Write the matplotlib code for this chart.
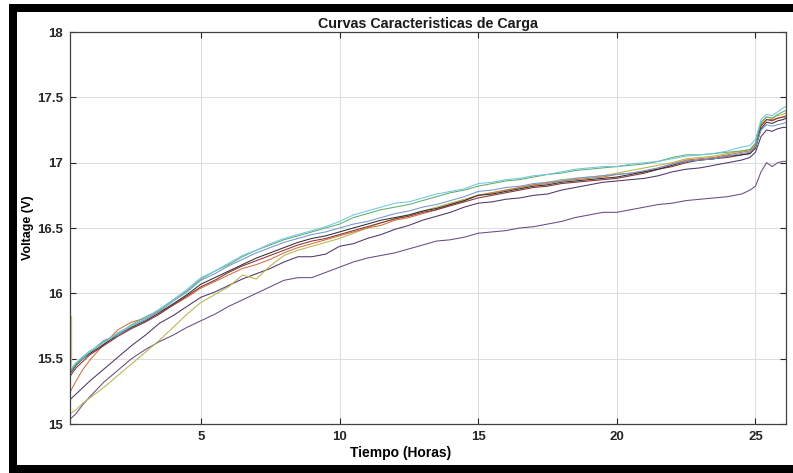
import matplotlib
matplotlib.use("Agg")
import matplotlib.pyplot as plt
from matplotlib.patches import Rectangle

plt.rcParams['font.family'] = ['Liberation Sans', 'DejaVu Sans']

# Charging time (hours)
t = [0.3, 0.5, 0.75, 1.0, 1.5, 2.0, 2.5, 3.0, 3.5, 4.0, 4.5, 5.0, 5.5, 6.0, 6.5,
     7.0, 7.5, 8.0, 8.5, 9.0, 9.5, 10.0, 10.5, 11.0, 11.5, 12.0, 12.5, 13.0,
     13.5, 14.0, 14.5, 15.0, 15.5, 16.0, 16.5, 17.0, 17.5, 18.0, 18.5, 19.0,
     19.5, 20.0, 20.5, 21.0, 21.5, 22.0, 22.5, 23.0, 23.5, 24.0, 24.5, 24.8,
     25.0, 25.2, 25.4, 25.6, 25.8, 26.0, 26.1]

# Battery voltage (V) for each charge cycle
v_cyan = [15.42, 15.47, 15.52, 15.56, 15.62, 15.70, 15.75, 15.81, 15.88, 15.95, 16.03, 16.12, 16.17, 16.23, 16.29,
          16.33, 16.38, 16.42, 16.45, 16.48, 16.51, 16.55, 16.60, 16.63, 16.66, 16.69, 16.70, 16.73,
          16.76, 16.78, 16.80, 16.84, 16.85, 16.87, 16.88, 16.90, 16.91, 16.93, 16.95, 16.96,
          16.97, 16.97, 16.99, 17.00, 17.01, 17.03, 17.05, 17.06, 17.07, 17.09, 17.12, 17.13,
          17.18, 17.33, 17.37, 17.36, 17.39, 17.42, 17.43]
v_green = [15.41, 15.46, 15.51, 15.55, 15.63, 15.69, 15.76, 15.82, 15.87, 15.95, 16.02, 16.11, 16.17, 16.22, 16.28,
           16.33, 16.37, 16.41, 16.44, 16.47, 16.50, 16.53, 16.58, 16.61, 16.64, 16.66, 16.68, 16.71,
           16.74, 16.77, 16.79, 16.82, 16.84, 16.86, 16.87, 16.89, 16.91, 16.92, 16.94, 16.95,
           16.96, 16.97, 16.98, 16.99, 17.01, 17.04, 17.06, 17.06, 17.07, 17.08, 17.09, 17.10,
           17.15, 17.31, 17.35, 17.34, 17.37, 17.39, 17.40]
v_blue = [15.40, 15.46, 15.50, 15.55, 15.64, 15.68, 15.75, 15.80, 15.86, 15.94, 16.01, 16.10, 16.15, 16.21, 16.26,
          16.31, 16.35, 16.39, 16.42, 16.45, 16.47, 16.50, 16.53, 16.55, 16.58, 16.61, 16.63, 16.66,
          16.68, 16.71, 16.74, 16.78, 16.79, 16.81, 16.82, 16.84, 16.85, 16.86, 16.88, 16.89,
          16.90, 16.91, 16.92, 16.94, 16.96, 16.99, 17.01, 17.02, 17.03, 17.05, 17.07, 17.08,
          17.12, 17.25, 17.29, 17.28, 17.29, 17.30, 17.31]
v_black = [15.39, 15.45, 15.50, 15.54, 15.61, 15.68, 15.74, 15.79, 15.85, 15.92, 15.99, 16.07, 16.12, 16.17, 16.22,
           16.27, 16.31, 16.35, 16.39, 16.42, 16.44, 16.47, 16.50, 16.53, 16.56, 16.58, 16.60, 16.63,
           16.65, 16.68, 16.71, 16.75, 16.76, 16.78, 16.80, 16.82, 16.83, 16.85, 16.86, 16.87,
           16.88, 16.89, 16.91, 16.93, 16.95, 16.98, 17.01, 17.02, 17.03, 17.05, 17.06, 17.07,
           17.11, 17.26, 17.31, 17.30, 17.32, 17.33, 17.34]
v_darkred = [15.37, 15.43, 15.48, 15.53, 15.60, 15.67, 15.73, 15.78, 15.84, 15.91, 15.98, 16.05, 16.10, 16.16, 16.21,
             16.25, 16.29, 16.33, 16.37, 16.40, 16.42, 16.45, 16.48, 16.51, 16.54, 16.57, 16.59, 16.62,
             16.64, 16.67, 16.70, 16.73, 16.75, 16.77, 16.79, 16.81, 16.82, 16.84, 16.85, 16.86,
             16.87, 16.88, 16.90, 16.92, 16.95, 16.97, 17.00, 17.02, 17.03, 17.04, 17.06, 17.07,
             17.12, 17.28, 17.33, 17.32, 17.34, 17.35, 17.35]
v_orange = [15.25, 15.33, 15.42, 15.49, 15.61, 15.72, 15.78, 15.81, 15.86, 15.91, 15.97, 16.04, 16.09, 16.14, 16.19,
            16.22, 16.26, 16.31, 16.35, 16.38, 16.41, 16.44, 16.47, 16.50, 16.52, 16.56, 16.58, 16.61,
            16.64, 16.68, 16.71, 16.75, 16.77, 16.79, 16.81, 16.83, 16.84, 16.86, 16.87, 16.88,
            16.89, 16.91, 16.92, 16.93, 16.96, 16.99, 17.02, 17.03, 17.04, 17.06, 17.08, 17.09,
            17.13, 17.29, 17.33, 17.33, 17.34, 17.35, 17.36]
v_olive = [15.08, 15.11, 15.16, 15.20, 15.28, 15.37, 15.46, 15.55, 15.64, 15.74, 15.84, 15.93, 15.99, 16.05, 16.14,
           16.11, 16.21, 16.29, 16.33, 16.36, 16.39, 16.42, 16.46, 16.50, 16.54, 16.57, 16.60, 16.63,
           16.66, 16.69, 16.72, 16.75, 16.77, 16.79, 16.81, 16.83, 16.85, 16.87, 16.88, 16.89,
           16.90, 16.92, 16.94, 16.96, 16.98, 17.00, 17.03, 17.04, 17.05, 17.07, 17.09, 17.10,
           17.14, 17.30, 17.35, 17.34, 17.36, 17.37, 17.38]
v_purple = [15.19, 15.23, 15.28, 15.33, 15.42, 15.51, 15.60, 15.68, 15.77, 15.83, 15.90, 15.97, 16.01, 16.06, 16.11,
            16.15, 16.19, 16.24, 16.28, 16.28, 16.30, 16.36, 16.38, 16.42, 16.45, 16.49, 16.52, 16.56,
            16.59, 16.62, 16.66, 16.69, 16.70, 16.72, 16.73, 16.75, 16.76, 16.79, 16.81, 16.83,
            16.85, 16.86, 16.87, 16.88, 16.90, 16.93, 16.95, 16.96, 16.98, 17.00, 17.02, 17.04,
            17.08, 17.20, 17.25, 17.24, 17.26, 17.27, 17.27]
v_lowest = [15.04, 15.08, 15.15, 15.21, 15.32, 15.41, 15.50, 15.57, 15.63, 15.68, 15.74, 15.79, 15.84, 15.90, 15.95,
            16.00, 16.05, 16.10, 16.12, 16.12, 16.16, 16.20, 16.24, 16.27, 16.29, 16.31, 16.34, 16.37,
            16.40, 16.41, 16.43, 16.46, 16.47, 16.48, 16.50, 16.51, 16.53, 16.55, 16.58, 16.60,
            16.62, 16.62, 16.64, 16.66, 16.68, 16.69, 16.71, 16.72, 16.73, 16.74, 16.76, 16.79,
            16.82, 16.93, 17.00, 16.97, 17.00, 17.01, 17.01]

# Short start-up transient of one cycle
t_spike = [0.3, 0.3]
v_spike = [15.45, 15.83]

series = [
    (v_lowest, '#6a4a82'),
    (v_purple, '#4f3466'),
    (v_olive, '#b3b54c'),
    (v_orange, '#d0703f'),
    (v_darkred, '#8c2f32'),
    (v_black, '#2e2e2e'),
    (v_blue, '#7497cf'),
    (v_green, '#5fae6e'),
    (v_cyan, '#72c6e2'),
]

W, H = 793, 473
fig = plt.figure(figsize=(W / 100, H / 100), dpi=100)

# black frame around the figure
def px_rect(x0, y0, x1, y1):
    return Rectangle((x0 / W, 1 - y1 / H), (x1 - x0) / W, (y1 - y0) / H,
                     transform=fig.transFigure, facecolor='black',
                     edgecolor='none', zorder=0)

fig.patches.extend([
    px_rect(9, 4, W, 12),
    px_rect(9, 4, 17, H),
    px_rect(9, 465, W, H),
])

ax = fig.add_axes([70 / W, 1 - 424 / H, (786 - 70) / W, (424 - 32) / H])

for v, c in series:
    ax.plot(t, v, color=c, linewidth=0.75)
ax.plot(t_spike, v_spike, color='#e8d04a', linewidth=1.0)

ax.set_xlim(0.28, 26.1)
ax.set_ylim(15, 18)
ax.set_xticks([5, 10, 15, 20, 25])
ax.set_yticks([15, 15.5, 16, 16.5, 17, 17.5, 18])
ax.set_yticklabels(['15', '15.5', '16', '16.5', '17', '17.5', '18'])

ax.grid(True, color='#dcdcdc', linewidth=0.7)
ax.set_axisbelow(True)
ax.tick_params(direction='in', length=4, width=0.8, top=True, right=True,
               colors='#262626', labelsize=9.5, pad=5)
for lab in ax.get_xticklabels() + ax.get_yticklabels():
    lab.set_fontweight('bold')
for s in ax.spines.values():
    s.set_color('#404040')
    s.set_linewidth(0.9)

ax.set_title('Curvas Caracteristicas de Carga', fontsize=10.3, fontweight='bold',
             color='#1a1a1a', pad=3)
ax.set_xlabel('Tiempo (Horas)', fontsize=10, fontweight='bold')
ax.xaxis.set_label_coords((401 - 70) / (786 - 70), -0.055)
ax.set_ylabel('Voltage (V)', fontsize=9, fontweight='bold')
ax.yaxis.set_label_coords((34 - 70) / (786 - 70), 0.5)

fig.savefig('out.png', dpi=100)
